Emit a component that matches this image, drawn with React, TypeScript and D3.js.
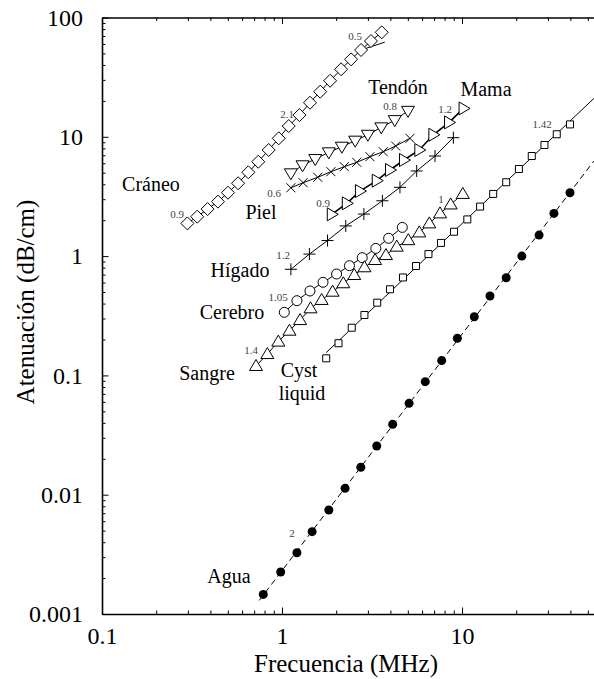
import * as d3 from "d3";
import {useRef, useEffect} from "react";

// attenuation vs frequency
const craneoFreq = [0.298, 0.338, 0.386, 0.441, 0.501, 0.570, 0.650, 0.738, 0.843, 0.959, 1.09, 1.25, 1.43, 1.63, 1.85, 2.13, 2.42, 2.75, 3.12, 3.58];
const craneoAtt = [1.88, 2.14, 2.48, 2.86, 3.40, 4.08, 5.04, 6.18, 7.75, 9.71, 12.3, 15.2, 19.3, 23.9, 29.5, 36.8, 44.6, 53.4, 63.5, 75.1];
const craneoTopSlope = 0.5;

const tendonFreq = [1.12, 1.30, 1.53, 1.82, 2.15, 2.55, 3.00, 3.56, 4.23, 5.01];
const tendonAtt = [4.94, 5.77, 6.51, 7.41, 8.26, 9.28, 10.4, 12.0, 13.8, 16.5];

const pielFreq = [1.12, 1.31, 1.58, 1.87, 2.22, 2.60, 3.08, 3.65, 4.28, 5.14];
const pielAtt = [3.74, 4.12, 4.58, 5.10, 5.62, 6.11, 6.81, 7.50, 8.37, 9.71];

const mamaFreq = [1.89, 2.29, 2.71, 3.36, 3.98, 4.76, 5.79, 6.93, 8.47, 10.2];
const mamaAtt = [2.24, 2.77, 3.51, 4.29, 5.27, 6.39, 7.75, 10.4, 13.2, 17.3];

const higadoFreq = [1.12, 1.42, 1.79, 2.26, 2.85, 3.61, 4.52, 5.60, 7.08, 8.95];
const higadoAtt = [0.775, 1.04, 1.35, 1.79, 2.25, 2.91, 3.77, 5.17, 6.90, 9.83];

const cerebroFreq = [1.03, 1.21, 1.43, 1.69, 2.01, 2.37, 2.79, 3.32, 3.91, 4.66];
const cerebroAtt = [0.338, 0.423, 0.510, 0.603, 0.708, 0.831, 0.970, 1.16, 1.41, 1.74];

const sangreFreq = [0.717, 0.829, 0.954, 1.10, 1.26, 1.44, 1.66, 1.91, 2.19, 2.52, 2.87, 3.29, 3.78, 4.34, 5.03, 5.79, 6.58, 7.55, 8.65, 10.1];
const sangreAtt = [0.120, 0.151, 0.192, 0.237, 0.291, 0.365, 0.429, 0.503, 0.592, 0.694, 0.806, 0.927, 1.02, 1.20, 1.36, 1.58, 1.88, 2.28, 2.71, 3.32];

const cystFreq = [1.76, 2.06, 2.44, 2.87, 3.38, 3.98, 4.70, 5.55, 6.51, 7.64, 9.03, 10.7, 12.6, 14.9, 17.6, 20.7, 24.4, 28.7, 33.6, 39.8];
const cystAtt = [0.139, 0.186, 0.251, 0.321, 0.407, 0.527, 0.662, 0.826, 1.04, 1.29, 1.60, 2.03, 2.60, 3.32, 4.16, 5.37, 6.90, 8.54, 10.5, 12.7];

const aguaFreq = [0.787, 0.983, 1.21, 1.47, 1.82, 2.24, 2.74, 3.36, 4.12, 5.08, 6.25, 7.71, 9.42, 11.7, 14.3, 17.6, 21.5, 26.8, 32.4, 39.8];
const aguaAtt = [0.00146, 0.00225, 0.00326, 0.00490, 0.00744, 0.0113, 0.0170, 0.0256, 0.0389, 0.0583, 0.0886, 0.133, 0.205, 0.310, 0.463, 0.659, 1.00, 1.50, 2.28, 3.40];

const xMajor = [0.1, 1, 10];
const yMajor = [0.001, 0.01, 0.1, 1, 10, 100];

// name labels and slope notes, in pixels
const nameLabels = [
    {text: "Cráneo", x: 151, y: 191},
    {text: "Piel", x: 261, y: 219},
    {text: "Tendón", x: 398, y: 94},
    {text: "Mama", x: 486, y: 96},
    {text: "Hígado", x: 240, y: 277},
    {text: "Cerebro", x: 232, y: 319},
    {text: "Sangre", x: 207, y: 380},
    {text: "Cyst", x: 299, y: 377},
    {text: "liquid", x: 302, y: 400},
    {text: "Agua", x: 229, y: 583},
];
const slopeNotes = [
    {text: "0.9", x: 177, y: 218},
    {text: "2.1", x: 287, y: 118},
    {text: "0.5", x: 355, y: 40},
    {text: "0.8", x: 390, y: 110},
    {text: "0.6", x: 274, y: 197},
    {text: "1.2", x: 445, y: 113},
    {text: "0.9", x: 323, y: 207},
    {text: "1.2", x: 283, y: 259},
    {text: "1.05", x: 278, y: 301},
    {text: "1.4", x: 251, y: 354},
    {text: "1", x: 441, y: 203},
    {text: "1.42", x: 542, y: 128},
    {text: "2", x: 292, y: 537},
];

const width = 594;
const height = 679;
const marginLeft = 102;
const marginTop = 17.5;
const plotBottom = 614;
const font = "'Liberation Serif', 'Times New Roman', serif";

const x = d3.scaleLog().domain([0.1, 54.1]).range([marginLeft, width]);
const y = d3.scaleLog().domain([0.001, 100]).range([plotBottom, marginTop]);

const markers = {
    diamond: "M0,-6.5L6.5,0L0,6.5L-6.5,0Z",
    triDown: "M-6.5,-4.5L6.5,-4.5L0,6.5Z",
    triUp: "M0,-6.5L6.5,4.5L-6.5,4.5Z",
    triRight: "M-4.5,-6.5L6.5,0L-4.5,6.5Z",
    cross: "M-4.5,-4.5L4.5,4.5M-4.5,4.5L4.5,-4.5",
    plus: "M-6,0H6M0,-6V6",
    square: "M-3.5,-3.5h7v7h-7Z",
};

const zip = (f, a) => f.map((v, i) => [v, a[i]]);

// least squares in log-log space, used for the extended fits
function logFit(f, a) {
    const lx = f.map(Math.log10), ly = a.map(Math.log10);
    const mx = d3.mean(lx), my = d3.mean(ly);
    const slope = d3.sum(lx, (v, i) => (v - mx) * (ly[i] - my)) / d3.sum(lx, v => (v - mx) ** 2);
    return v => 10 ** (my + slope * (Math.log10(v) - mx));
}

const series = [
    {key: "craneo", pts: zip(craneoFreq, craneoAtt), marker: "diamond"},
    {key: "tendon", pts: zip(tendonFreq, tendonAtt), marker: "triDown"},
    {key: "piel", pts: zip(pielFreq, pielAtt), marker: "cross"},
    {key: "mama", pts: zip(mamaFreq, mamaAtt), marker: "triRight", bold: true},
    {key: "higado", pts: zip(higadoFreq, higadoAtt), marker: "plus"},
    {key: "cerebro", pts: zip(cerebroFreq, cerebroAtt), marker: "circle"},
    {key: "sangre", pts: zip(sangreFreq, sangreAtt), marker: "triUp"},
    {key: "cyst", pts: zip(cystFreq, cystAtt), marker: "square", fit: true},
    {key: "agua", pts: zip(aguaFreq, aguaAtt), marker: "dot", fit: true, dashed: true},
];

const line = d3.line().x(d => x(d[0])).y(d => y(d[1]));

function linePoints(s) {
    if (!s.fit) return s.pts;
    const fn = logFit(s.pts.map(d => d[0]), s.pts.map(d => d[1]));
    const x0 = s.pts[0][0] * (s.dashed ? 0.95 : 1);
    const x1 = x.domain()[1];
    return [[x0, fn(x0)], [x1, fn(x1)]];
}

// short high-frequency fit on the skull curve
const topStart = craneoFreq.length - 3;
const topEnd = craneoFreq[craneoFreq.length - 1] * 1.04;
const craneoTop = [
    [craneoFreq[topStart], craneoAtt[topStart]],
    [topEnd, craneoAtt[topStart] * (topEnd / craneoFreq[topStart]) ** craneoTopSlope],
];

function Marker({type, cx, cy}) {
    if (type === "circle") return <circle cx={cx} cy={cy} r={5} fill="#fff" stroke="#000" strokeWidth={1}/>;
    if (type === "dot") return <circle cx={cx} cy={cy} r={4.5} fill="#000"/>;
    const open = type === "cross" || type === "plus";
    return <path d={markers[type]} transform={`translate(${cx},${cy})`}
                 fill={open ? "none" : "#fff"} stroke="#000" strokeWidth={1}/>;
}

export default function App() {
    const axesRef = useRef();

    useEffect(() => {
        const g = d3.select(axesRef.current);
        g.selectAll("*").remove();
        const xMinor = x.ticks().filter(v => !xMajor.some(m => Math.abs(m - v) / m < 1e-6));
        const yMinor = y.ticks().filter(v => !yMajor.some(m => Math.abs(m - v) / m < 1e-6));
        const fmt = d3.format("~g");

        const bottom = g.append("g").attr("transform", `translate(0,${plotBottom})`);
        bottom.append("g").call(d3.axisBottom(x).tickValues(xMinor).tickSize(-3.5).tickSizeOuter(0).tickFormat(() => ""))
            .call(a => a.select(".domain").remove());
        bottom.append("g").call(d3.axisBottom(x).tickValues(xMajor).tickSize(-6.5).tickSizeOuter(0).tickPadding(13).tickFormat(fmt));

        const top = g.append("g").attr("transform", `translate(0,${marginTop})`);
        top.append("g").call(d3.axisTop(x).tickValues(xMinor).tickSize(-3.5).tickSizeOuter(0).tickFormat(() => ""))
            .call(a => a.select(".domain").remove());
        top.append("g").call(d3.axisTop(x).tickValues(xMajor).tickSize(-6.5).tickSizeOuter(0).tickFormat(() => ""));

        const left = g.append("g").attr("transform", `translate(${marginLeft},0)`);
        left.append("g").call(d3.axisLeft(y).tickValues(yMinor).tickSize(-3.5).tickSizeOuter(0).tickFormat(() => ""))
            .call(a => a.select(".domain").remove());
        left.append("g").call(d3.axisLeft(y).tickValues(yMajor).tickSize(-6.5).tickSizeOuter(0).tickPadding(19).tickFormat(fmt));

        g.selectAll(".domain").attr("stroke-width", 1.6);
        g.selectAll(".tick line").attr("stroke-width", 1);
        g.selectAll("g").attr("font-family", null).attr("font-size", null);
        g.selectAll("text").attr("font-family", font).attr("font-size", 24).attr("fill", "#000");
    }, []);

    return (
        <svg width={width} height={height} style={{position: "absolute", left: 0, top: 0, background: "#fff"}}>
            <defs>
                <clipPath id="plot">
                    <rect x={marginLeft} y={marginTop} width={width - marginLeft} height={plotBottom - marginTop}/>
                </clipPath>
            </defs>
            <g clipPath="url(#plot)">
                {series.map(s => (
                    <path key={s.key} d={line(linePoints(s))} fill="none" stroke="#000"
                          strokeWidth={s.bold ? 1.6 : 1} strokeDasharray={s.dashed ? "6,4" : null}/>
                ))}
                <path d={line(craneoTop)} fill="none" stroke="#000" strokeWidth={1}/>
                {series.map(s => s.pts.map((d, i) => (
                    <Marker key={s.key + i} type={s.marker} cx={x(d[0])} cy={y(d[1])}/>
                )))}
            </g>
            <g ref={axesRef}/>
            <g fontFamily={font} fill="#000">
                {nameLabels.map(l => (
                    <text key={l.text} x={l.x} y={l.y} fontSize={20} textAnchor="middle">{l.text}</text>
                ))}
                {slopeNotes.map((l, i) => (
                    <text key={i} x={l.x} y={l.y} fontSize={11} textAnchor="middle" fill="#444">{l.text}</text>
                ))}
                <text x={346} y={672} fontSize={25} textAnchor="middle">Frecuencia (MHz)</text>
                <text transform="translate(34,302) rotate(-90)" fontSize={25} textAnchor="middle">Atenuación (dB/cm)</text>
            </g>
        </svg>
    );
}
